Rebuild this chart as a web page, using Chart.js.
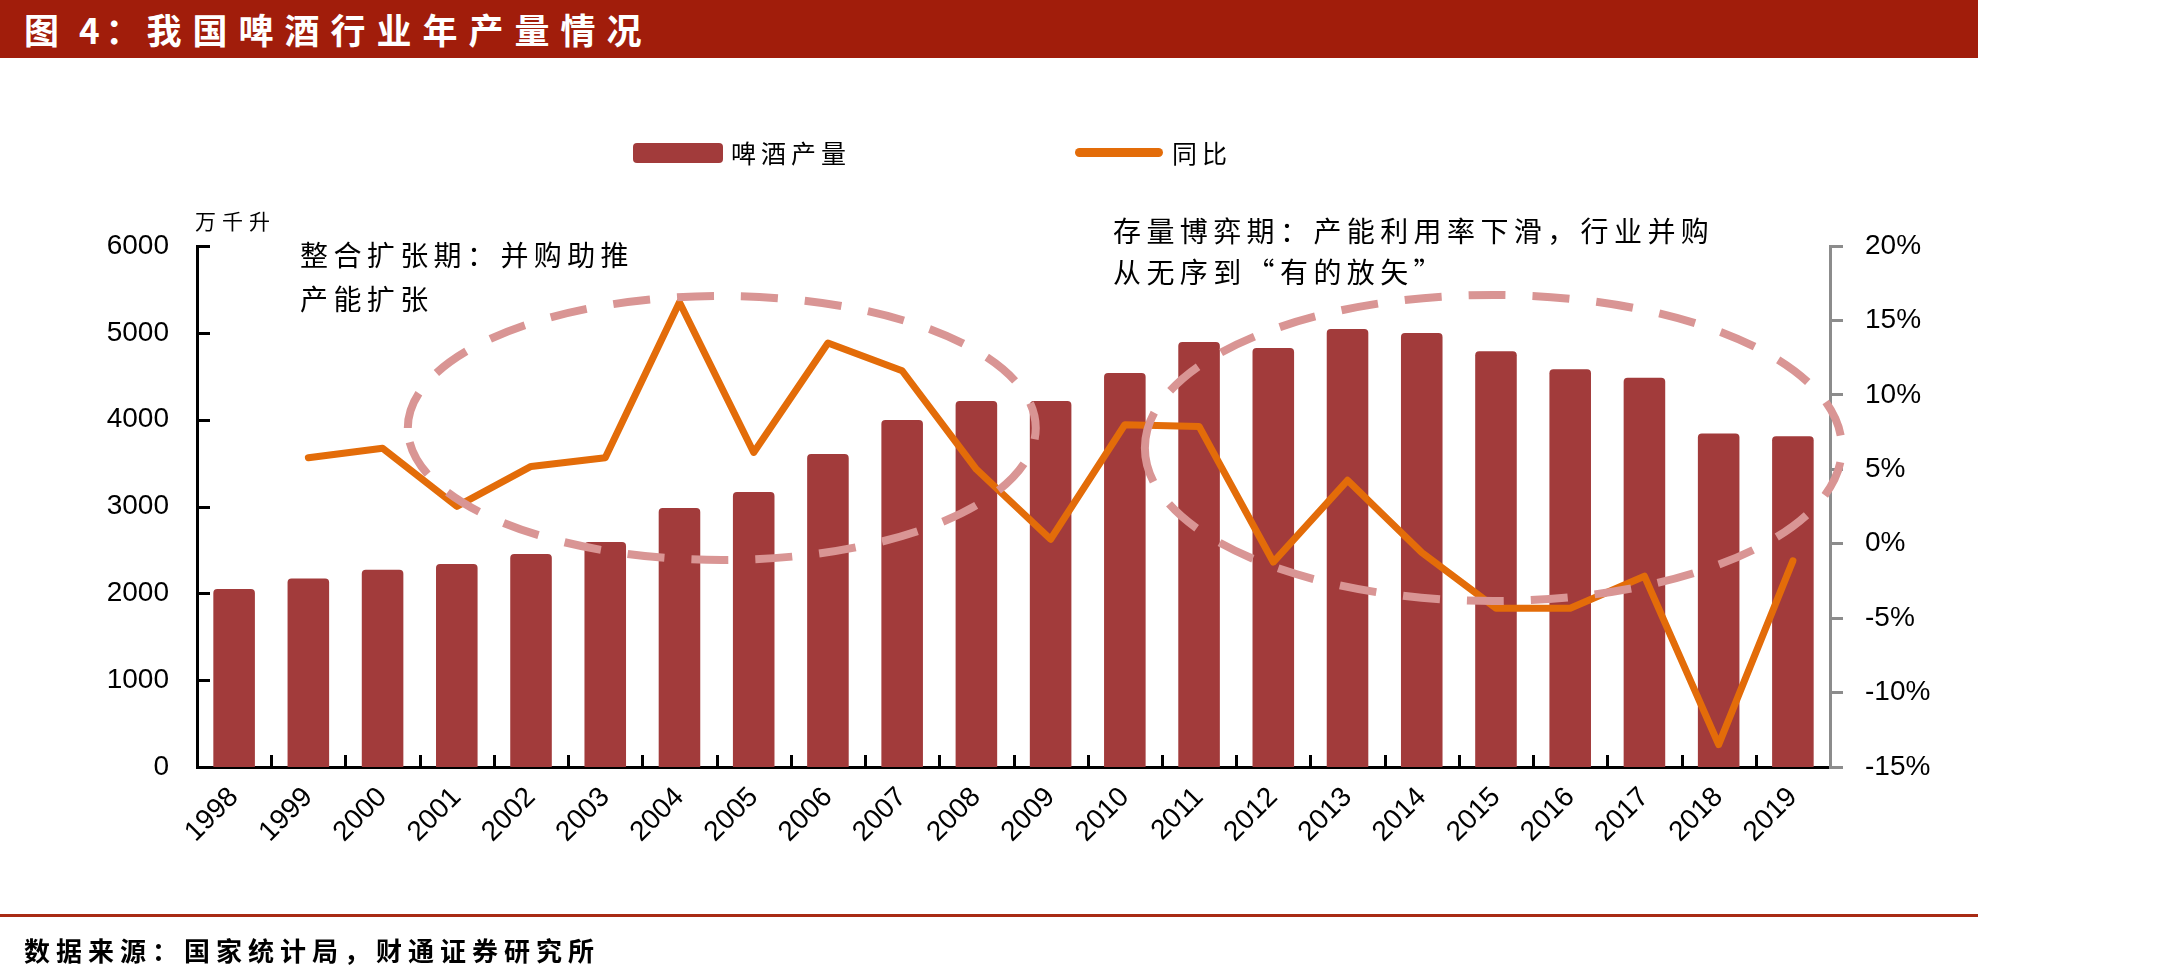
<!DOCTYPE html>
<html>
<head>
<meta charset="utf-8">
<script src="https://cdn.jsdelivr.net/npm/chart.js@4.4.0/dist/chart.umd.min.js"></script>
<style>
  body { margin: 0; background: #fff; }
  #wrap { position: relative; width: 2180px; height: 978px; overflow: hidden; font-family: "Noto Sans CJK SC", sans-serif; color: #000; }
  #titlebar { position: absolute; left: 0; top: 0; width: 1978px; height: 58px; background: #A11D0B; }
  #title { position: absolute; left: 24px; top: 0; line-height: 58px; color: #fff; font-size: 35px; font-weight: 700; letter-spacing: 11px; white-space: nowrap; }
  #title .pre { letter-spacing: 6px; }
  #myChart { position: absolute; left: 0; top: 0; }
  .txt { position: absolute; white-space: nowrap; }
  #unit { left: 195px; top: 206px; font-size: 21px; letter-spacing: 6px; line-height: 28px; }
  .note { font-size: 28px; letter-spacing: 5.4px; }
  #note1 { left: 300px; top: 232px; line-height: 44px; }
  #note2 { left: 1113px; top: 210px; line-height: 41px; }
  .leg { position: absolute; font-size: 25px; letter-spacing: 5px; line-height: 30px; white-space: nowrap; }
  #footline { position: absolute; left: 0; top: 914px; width: 1978px; height: 3px; background: #A82A14; }
  #source { left: 24px; top: 930px; font-size: 26px; font-weight: 700; letter-spacing: 6px; line-height: 40px; }
</style>
</head>
<body>
<div id="wrap">
  <canvas id="myChart" width="2180" height="978"></canvas>
  <div id="titlebar"><div id="title"><span class="pre">图 4：</span>我国啤酒行业年产量情况</div></div>
  <div id="legend"></div>
  <div class="txt" id="unit">万千升</div>
  <div class="txt note" id="note1">整合扩张期：并购助推<br>产能扩张</div>
  <div class="txt note" id="note2">存量博弈期：产能利用率下滑，行业并购<br>从无序到“有的放矢”</div>
  <div id="footline"></div>
  <div class="txt" id="source">数据来源：国家统计局，财通证券研究所</div>
</div>
<script>
var years = ["1998", "1999", "2000", "2001", "2002", "2003", "2004", "2005", "2006", "2007", "2008",
  "2009", "2010", "2011", "2012", "2013", "2014", "2015", "2016", "2017", "2018", "2019"];
// 啤酒产量, 万千升
var production = [2050, 2170, 2273, 2338, 2453, 2591, 2983, 3167, 3605, 3996, 4215,
  4215, 4537, 4894, 4825, 5044, 4998, 4789, 4580, 4484, 3842, 3810];
// 同比, %
var yoy = [null, 5.78, 6.41, 2.51, 5.19, 5.78, 16.22, 6.13, 13.48, 11.62, 5.0,
  0.3, 8.0, 7.88, -1.23, 4.26, -0.59, -4.33, -4.33, -2.18, -13.5, -1.15];
var leftTicks = [0, 1000, 2000, 3000, 4000, 5000, 6000];
var rightTicks = [-15, -10, -5, 0, 5, 10, 15, 20];

// dashed rings, in category index / left axis units
var rings = [
  { from: 2.34, to: 10.8, low: 2384, high: 5424 },
  { from: 12.27, to: 21.66, low: 1912, high: 5436 }
];

var barRed = "#A23B3B";
var orange = "#E36C09";
var ringColor = "#D99594";
var numFont = { family: '"Liberation Sans", Arial, sans-serif', size: 28 };

var decor = {
  id: "decor",
  afterDatasetsDraw(chart) {
    var c = chart.ctx, x = chart.scales.x, y = chart.scales.y;
    c.save();
    c.strokeStyle = ringColor;
    c.lineWidth = 8;
    c.setLineDash([37, 27]);
    rings.forEach(function (r) {
      var x0 = x.getPixelForValue(r.from), x1 = x.getPixelForValue(r.to);
      var y0 = y.getPixelForValue(r.high), y1 = y.getPixelForValue(r.low);
      c.beginPath();
      c.ellipse((x0 + x1) / 2, (y0 + y1) / 2, (x1 - x0) / 2, (y1 - y0) / 2, 0, Math.PI, Math.PI * 3);
      c.stroke();
    });
    c.restore();
  },
  afterDraw(chart) {
    var c = chart.ctx, x = chart.scales.x, y = chart.scales.y, a = chart.chartArea;
    c.save();
    c.strokeStyle = "#000";
    c.lineWidth = 3;
    c.beginPath();
    leftTicks.forEach(function (v) {
      if (v === 0) return;
      var py = Math.round(y.getPixelForValue(v)) + 0.5;
      c.moveTo(a.left, py);
      c.lineTo(a.left + 13, py);
    });
    for (var i = 0; i < years.length - 1; i++) {
      var px = Math.round(x.getPixelForValue(i + 0.5)) + 0.5;
      c.moveTo(px, a.bottom);
      c.lineTo(px, a.bottom - 12);
    }
    c.stroke();
    c.restore();
  }
};

var ctx = document.getElementById("myChart");
var myChart = new Chart(ctx, {
  data: {
    labels: years,
    datasets: [
      {
        type: "line",
        label: "同比",
        data: yoy,
        yAxisID: "y1",
        borderColor: orange,
        backgroundColor: orange,
        borderWidth: 7,
        pointRadius: 0,
        tension: 0,
        borderJoinStyle: "round",
        borderCapStyle: "round",
        order: 0,
      },
      {
        type: "bar",
        label: "啤酒产量",
        data: production,
        yAxisID: "y",
        backgroundColor: barRed,
        barPercentage: 0.56,
        categoryPercentage: 1,
        borderRadius: 4,
        order: 1,
      },
    ],
  },
  options: {
    responsive: false,
    animation: false,
    layout: { padding: { top: 246, left: 0, right: 0, bottom: 0 } },
    plugins: { legend: { display: false }, tooltip: { enabled: false } },
    scales: {
      x: {
        offset: true,
        grid: { display: false, drawTicks: false },
        border: { color: "#000", width: 3 },
        ticks: { autoSkip: false, minRotation: 45, maxRotation: 45, padding: 14, color: "#000", font: numFont },
        afterFit: function (s) { s.height = 211; },
      },
      y: {
        position: "left",
        min: 0,
        max: 6000,
        afterBuildTicks: function (s) { s.ticks = leftTicks.map(function (v) { return { value: v }; }); },
        grid: { display: false, drawTicks: false },
        border: { color: "#000", width: 3 },
        ticks: { padding: 28, color: "#000", font: numFont, callback: function (v) { return String(v); } },
        afterFit: function (s) { s.width = 197; },
      },
      y1: {
        position: "right",
        min: -15,
        max: 20,
        afterBuildTicks: function (s) { s.ticks = rightTicks.map(function (v) { return { value: v }; }); },
        grid: { drawOnChartArea: false, drawTicks: true, tickLength: 13, color: "#8c8c8c", lineWidth: 3 },
        border: { color: "#8c8c8c", width: 3 },
        ticks: { padding: 22, color: "#000", font: numFont, callback: function (v) { return v + "%"; } },
        afterFit: function (s) { s.width = 350; },
      },
    },
  },
  plugins: [decor],
});

// Legend
var legend = document.getElementById("legend");
var barSet = myChart.data.datasets[1], lineSet = myChart.data.datasets[0];
legend.innerHTML =
  '<div style="position:absolute;left:633px;top:143px;width:90px;height:20px;border-radius:4px;background:' + barSet.backgroundColor + '"></div>' +
  '<div class="leg" style="left:731px;top:137px">' + barSet.label + '</div>' +
  '<div style="position:absolute;left:1075px;top:148px;width:88px;height:9px;border-radius:5px;background:' + lineSet.borderColor + '"></div>' +
  '<div class="leg" style="left:1172px;top:137px">' + lineSet.label + '</div>';
</script>
</body>
</html>
